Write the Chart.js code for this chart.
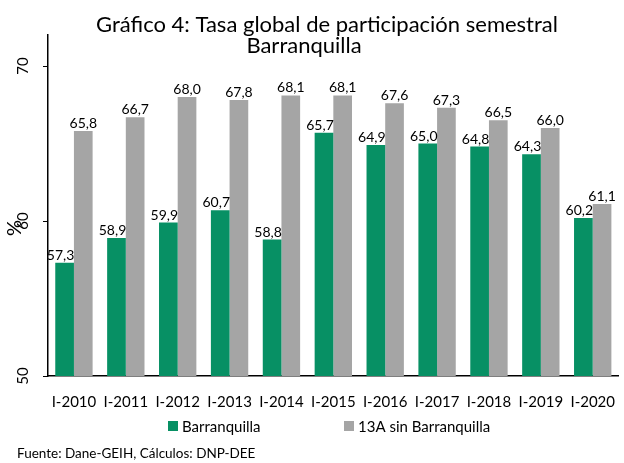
<!DOCTYPE html>
<html lang="es">
<head>
<meta charset="UTF-8">
<title>Gráfico 4</title>
<script src="https://cdn.jsdelivr.net/npm/chart.js"></script>
<style>
  html, body { margin: 0; padding: 0; background: #fff; }
  #wrap { width: 624px; height: 463px; position: relative; }
</style>
</head>
<body>
<div id="wrap"><canvas id="chart"></canvas></div>
<script>
// Data
const periods = ['I-2010', 'I-2011', 'I-2012', 'I-2013', 'I-2014', 'I-2015', 'I-2016', 'I-2017', 'I-2018', 'I-2019', 'I-2020'];
const barranquilla = [57.3, 58.9, 59.9, 60.7, 58.8, 65.7, 64.9, 65.0, 64.8, 64.3, 60.2];
const sinBarranquilla = [65.8, 66.7, 68.0, 67.8, 68.1, 68.1, 67.6, 67.3, 66.5, 66.0, 61.1];
const yTicks = [50, 60, 70];

const FONT = 'Lato, "Open Sans", sans-serif';

// labels on top of the bars, comma decimal
const barLabels = {
  id: 'barLabels',
  afterDatasetsDraw(chart) {
    const ctx = chart.ctx;
    ctx.save();
    ctx.font = '14px ' + FONT;
    ctx.fillStyle = '#000';
    ctx.textAlign = 'center';
    ctx.textBaseline = 'alphabetic';
    chart.data.datasets.forEach((ds, i) => {
      const shift = i === 0 ? -4 : 0;
      chart.getDatasetMeta(i).data.forEach((bar, j) => {
        ctx.fillText(ds.data[j].toFixed(1).replace('.', ','), bar.x + shift, bar.y - 3);
      });
    });
    ctx.restore();
  }
};

// rotated y tick labels, axis title, chart title, legend and source
const extras = {
  id: 'extras',
  afterDraw(chart) {
    const ctx = chart.ctx;
    const y = chart.scales.y;
    ctx.save();
    ctx.fillStyle = '#000';
    ctx.font = '15px ' + FONT;
    ctx.textAlign = 'center';
    ctx.textBaseline = 'middle';
    yTicks.forEach(v => {
      ctx.save();
      ctx.translate(23, y.getPixelForValue(v));
      ctx.rotate(-Math.PI / 2);
      ctx.fillText(String(v), 0, 0);
      ctx.restore();
    });
    ctx.save();
    ctx.font = '20px ' + FONT;
    ctx.translate(15, 228);
    ctx.rotate(-Math.PI / 2);
    ctx.fillText('%', 0, 0);
    ctx.restore();

    ctx.font = '22px ' + FONT;
    ctx.textBaseline = 'alphabetic';
    ctx.fillText('Gráfico 4: Tasa global de participación semestral', 327, 32);
    ctx.fillText('Barranquilla', 304, 53);

    // legend
    ctx.font = '15px ' + FONT;
    ctx.textAlign = 'left';
    ctx.textBaseline = 'middle';
    const legendX = [168, 344];
    chart.data.datasets.forEach((ds, i) => {
      ctx.fillStyle = ds.backgroundColor;
      ctx.fillRect(legendX[i], 421, 10, 10);
      ctx.fillStyle = '#000';
      ctx.fillText(ds.label, legendX[i] + 14, 427);
    });

    ctx.font = '13.5px ' + FONT;
    ctx.textBaseline = 'alphabetic';
    ctx.fillText('Fuente: Dane-GEIH, Cálculos: DNP-DEE', 17, 458);
    ctx.restore();
  }
};

new Chart(document.getElementById('chart'), {
  type: 'bar',
  data: {
    labels: periods,
    datasets: [
      { label: 'Barranquilla', data: barranquilla, backgroundColor: '#079064', categoryPercentage: 0.72, barPercentage: 1 },
      { label: '13A sin Barranquilla', data: sinBarranquilla, backgroundColor: '#a5a5a5', categoryPercentage: 0.72, barPercentage: 1 }
    ]
  },
  options: {
    responsive: true,
    maintainAspectRatio: false,
    animation: false,
    layout: { padding: { left: 43, top: 35, right: 0, bottom: 43 } },
    scales: {
      x: {
        grid: { display: false },
        border: { display: true, color: '#000', width: 1.5 },
        ticks: { color: '#000', font: { family: FONT, size: 15 }, padding: 9, maxRotation: 0, minRotation: 0 }
      },
      y: {
        min: 50,
        max: 72,
        afterBuildTicks(scale) { scale.ticks = yTicks.map(v => ({ value: v })); },
        grid: { display: true, drawOnChartArea: false, drawTicks: true, tickLength: 5, color: '#000' },
        border: { display: true, color: '#000', width: 1.5 },
        ticks: { display: false }
      }
    },
    plugins: {
      legend: { display: false },
      tooltip: { enabled: false }
    }
  },
  plugins: [barLabels, extras]
});
</script>
</body>
</html>
